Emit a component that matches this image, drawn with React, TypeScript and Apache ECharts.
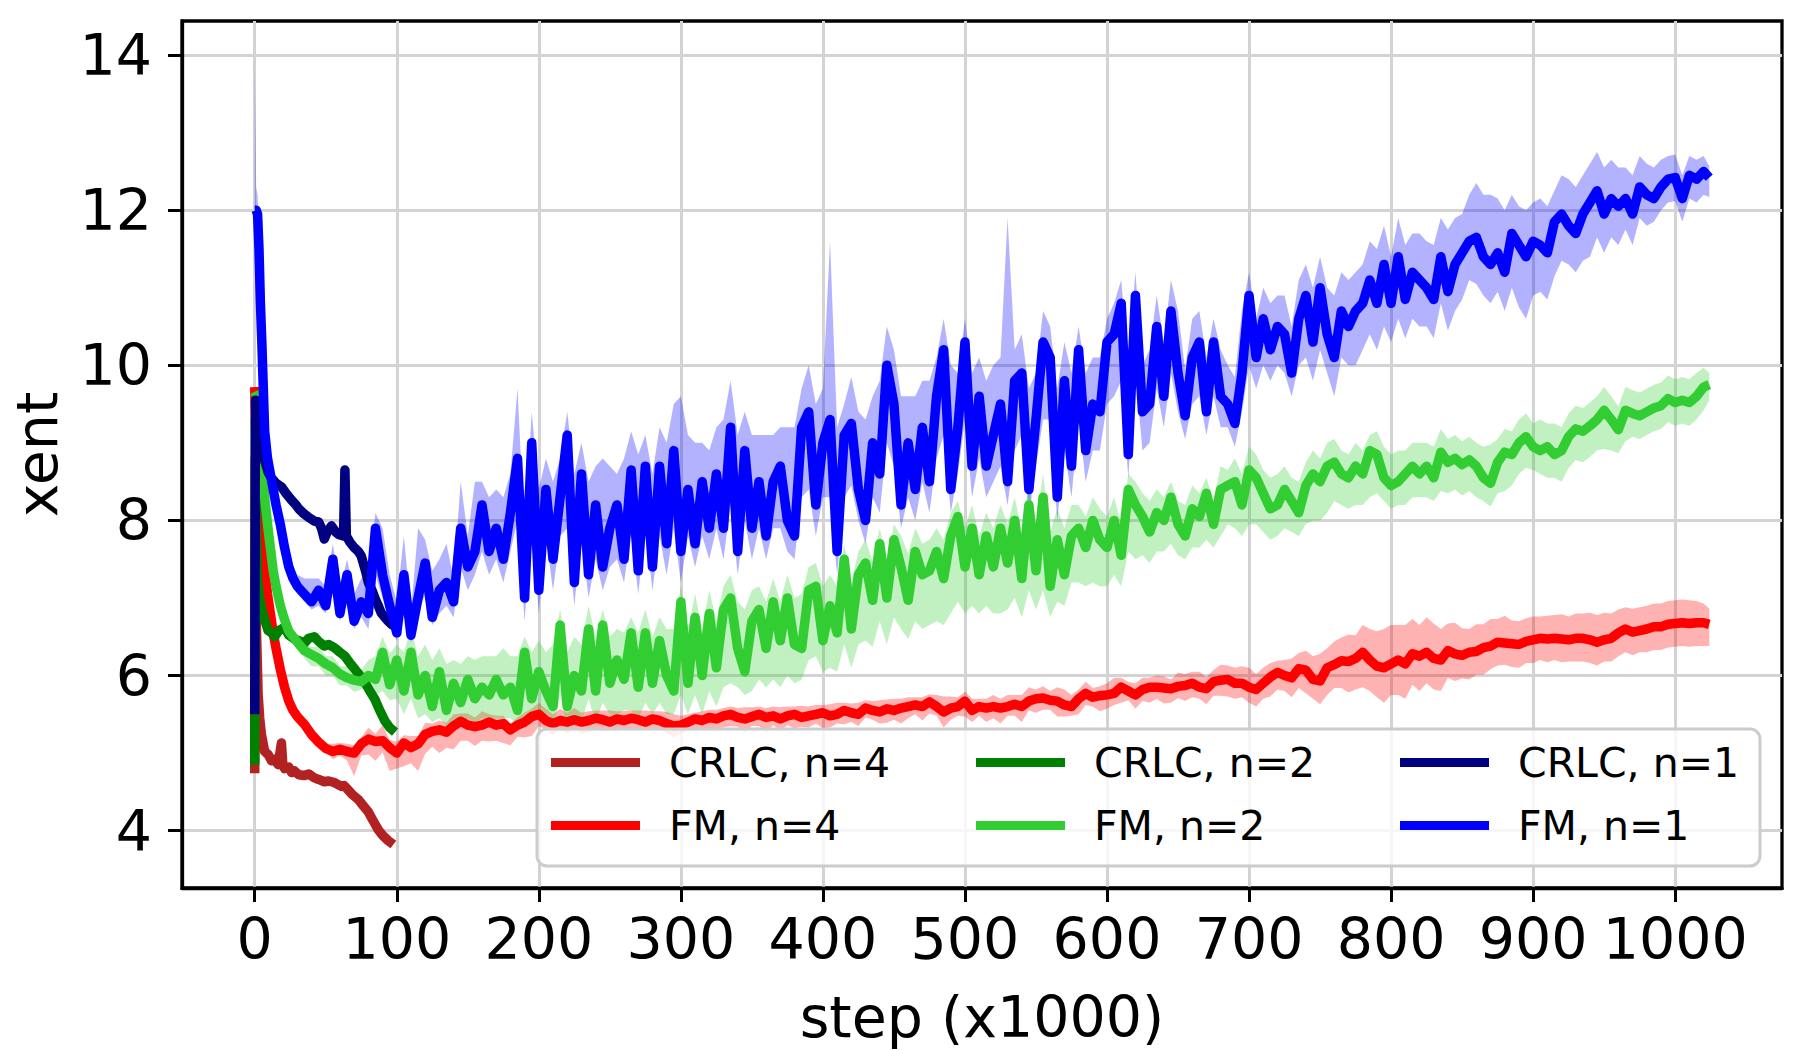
import React, { useEffect, useRef } from "react";
import * as echarts from "echarts";

const FONT = "'DejaVu Sans', 'Liberation Sans', sans-serif";

const xTickValues = [0, 100, 200, 300, 400, 500, 600, 700, 800, 900, 1000];
const yTickValues = [4, 6, 8, 10, 12, 14];

const fmEarlySteps = [0, 1, 2, 3, 4, 5, 7, 9, 11, 13, 15, 18, 21, 24, 27, 30];
const fmSteps = [...fmEarlySteps, ...Array.from({ length: 198 }, (_, i) => 35 + 5 * i), 1024];

const fm1Mean = [
  12.0, 12.0, 11.95, 11.5, 10.8, 10.3, 9.15, 8.8, 8.6, 8.4, 8.2, 7.95, 7.65, 7.4, 7.25, 7.15,
  7.05, 6.95, 7.1, 6.9, 7.5, 6.8, 7.3, 6.7, 6.95, 6.8, 7.9, 7.3, 6.9, 6.55, 7.3, 6.52, 7.0, 7.45, 6.75, 7.1,
  7.2, 6.95, 7.9, 7.4, 7.6, 8.2, 7.6, 7.9, 7.5, 8.1, 8.8, 7.0, 9.0, 7.1, 8.4, 7.5, 8.3, 9.1, 7.2, 8.6,
  7.3, 8.2, 7.4, 7.9, 8.2, 7.5, 8.65, 7.35, 8.7, 7.4, 8.7, 7.7, 8.9, 7.6, 8.4, 7.7, 8.5, 7.9, 8.6, 7.9,
  9.2, 7.6, 8.9, 7.9, 8.5, 7.8, 8.5, 8.7, 8.0, 7.8, 9.2, 9.4, 8.2, 9.0, 9.3, 7.6, 9.1, 9.25, 8.4, 8.0,
  9.0, 8.6, 10.0, 9.5, 8.2, 9.0, 8.4, 9.2, 8.5, 9.6, 10.2, 8.4, 9.2, 10.3, 8.7, 9.6, 8.7, 9.1, 9.5, 8.5,
  9.8, 9.9, 8.4, 9.3, 10.3, 10.1, 8.3, 9.8, 8.7, 10.2, 8.9, 9.5, 9.4, 10.3, 10.4, 10.8, 8.85, 10.9, 9.4, 9.5,
  10.5, 9.6, 10.7, 9.9, 9.35, 10.1, 10.3, 9.4, 10.3, 9.6, 9.5, 9.25, 9.9, 10.9, 10.1, 10.6, 10.2, 10.5, 10.4, 9.9,
  10.6, 10.9, 10.3, 11.0, 10.4, 10.1, 10.7, 10.5, 10.7, 10.8, 11.1, 10.8, 11.3, 10.8, 11.4, 10.85, 11.2, 11.1, 11.0, 10.85,
  11.4, 10.95, 11.3, 11.45, 11.6, 11.65, 11.4, 11.3, 11.45, 11.2, 11.7, 11.55, 11.4, 11.6, 11.55, 11.45, 11.85, 11.95, 11.8, 11.7,
  11.95, 12.1, 12.25, 11.95, 12.15, 12.05, 12.15, 11.95, 12.3, 12.2, 12.15, 12.3, 12.4, 12.42, 12.15, 12.45, 12.4, 12.5,
  12.42,
];
const fm1Up = [
  1.96, 0.3, 0.25, 0.25, 0.25, 0.2, 0.2, 0.15, 0.15, 0.15, 0.15, 0.15, 0.15, 0.15, 0.15, 0.15,
  0.2, 0.3, 0.15, 0.25, 0.2, 0.3, 0.2, 0.35, 0.3, 0.5, 0.2, 0.6, 0.4, 0.4, 0.5, 0.3, 0.9, 0.3, 0.6, 0.4,
  0.5, 0.3, 0.6, 0.4, 0.9, 0.3, 0.7, 0.5, 0.8, 0.5, 0.9, 0.8, 0.4, 1.3, 0.4, 1.0, 0.5, 0.3, 1.4, 0.4,
  1.2, 0.5, 1.4, 0.8, 0.4, 1.3, 0.5, 1.5, 0.4, 1.2, 0.5, 1.3, 0.6, 2.0, 0.7, 1.3, 0.5, 1.0, 0.6, 1.4,
  0.6, 1.5, 0.5, 1.2, 0.6, 1.3, 0.6, 0.5, 1.2, 1.4, 0.5, 0.6, 1.3, 0.7, 2.3, 1.6, 0.4, 0.6, 1.0, 1.3,
  0.6, 1.2, 0.5, 0.7, 1.4, 0.6, 1.2, 0.6, 1.3, 0.5, 0.4, 1.6, 0.7, 0.3, 1.2, 0.5, 1.1, 0.9, 0.6, 3.4,
  0.4, 0.5, 1.3, 0.6, 0.4, 0.4, 1.4, 0.5, 1.2, 0.3, 1.0, 0.6, 0.7, 0.3, 0.4, 0.3, 1.2, 0.3, 0.6, 0.7,
  0.4, 0.7, 0.4, 0.8, 0.6, 0.5, 0.4, 0.7, 0.3, 0.6, 0.5, 0.6, 0.8, 0.3, 0.5, 0.4, 0.6, 0.4, 0.5, 0.6,
  0.5, 0.4, 0.7, 0.4, 0.6, 0.8, 0.5, 0.6, 0.5, 0.5, 0.5, 0.7, 0.5, 0.6, 0.5, 0.7, 0.5, 0.6, 0.6, 0.7,
  0.5, 0.8, 0.6, 0.5, 0.6, 0.7, 0.8, 0.9, 0.7, 0.8, 0.5, 0.5, 0.6, 0.5, 0.6, 0.6, 0.4, 0.5, 0.6, 0.6,
  0.5, 0.5, 0.5, 0.6, 0.5, 0.5, 0.4, 0.5, 0.4, 0.4, 0.4, 0.35, 0.3, 0.3, 0.3, 0.25, 0.25, 0.2,
  0.15,
];
const fm1Down = [
  0, 0.1, 0.1, 0.1, 0.1, 0.1, 0.1, 0.1, 0.1, 0.1, 0.1, 0.1, 0.1, 0.1, 0.1, 0.1,
  0.1, 0.1, 0.2, 0.1, 0.3, 0.1, 0.3, 0.1, 0.2, 0.2, 0.6, 0.3, 0.2, 0.1, 0.4, 0.1, 0.2, 0.4, 0.1, 0.3,
  0.3, 0.2, 0.5, 0.3, 0.3, 0.6, 0.3, 0.4, 0.3, 0.5, 0.8, 0.3, 1.0, 0.3, 0.6, 0.4, 0.5, 1.2, 0.3, 0.8,
  0.3, 0.7, 0.3, 0.5, 0.7, 0.3, 0.8, 0.3, 0.8, 0.3, 0.9, 0.4, 1.0, 0.4, 0.6, 0.3, 0.7, 0.4, 0.7, 0.4,
  1.0, 0.3, 0.9, 0.4, 0.6, 0.3, 0.6, 0.8, 0.4, 0.3, 0.9, 1.0, 0.4, 0.7, 1.0, 0.3, 0.8, 0.8, 0.4, 0.3,
  0.7, 0.5, 1.0, 0.8, 0.3, 0.7, 0.4, 0.7, 0.4, 0.8, 1.1, 0.3, 0.6, 1.0, 0.4, 0.8, 0.4, 0.6, 0.8, 0.3,
  0.9, 0.8, 0.3, 0.6, 1.0, 0.8, 0.3, 0.9, 0.4, 0.9, 0.4, 0.6, 0.5, 0.8, 0.8, 1.0, 0.3, 1.0, 0.5, 0.5,
  0.8, 0.4, 0.8, 0.5, 0.3, 0.6, 0.7, 0.3, 0.7, 0.4, 0.3, 0.3, 0.5, 0.9, 0.4, 0.6, 0.4, 0.5, 0.5, 0.3,
  0.6, 0.8, 0.5, 0.8, 0.5, 0.5, 0.6, 0.5, 0.7, 0.6, 0.7, 0.6, 0.8, 0.5, 0.8, 0.5, 0.6, 0.6, 0.5, 0.5,
  0.6, 0.5, 0.6, 0.6, 0.5, 0.6, 0.5, 0.5, 0.5, 0.5, 0.7, 0.8, 0.8, 0.7, 0.6, 0.6, 0.7, 0.6, 0.5, 0.5,
  0.6, 0.7, 0.6, 0.5, 0.5, 0.5, 0.4, 0.4, 0.4, 0.4, 0.3, 0.3, 0.3, 0.3, 0.3, 0.3, 0.3, 0.3,
  0.25,
];

const fm2Mean = [
  9.66, 9.62, 9.57, 9.4, 9.2, 8.95, 8.3, 7.95, 7.65, 7.35, 7.15, 6.9, 6.72, 6.57, 6.5, 6.43,
  6.32, 6.27, 6.22, 6.15, 6.1, 6.02, 5.97, 5.94, 5.92, 6.0, 5.95, 6.3, 5.88, 6.2, 5.8, 6.3, 5.75, 6.0, 5.6, 6.05,
  5.55, 5.9, 5.65, 5.95, 5.7, 5.85, 5.75, 5.95, 5.75, 5.85, 5.55, 6.3, 5.7, 6.05, 5.8, 5.6, 6.65, 5.6, 6.0, 5.8,
  6.6, 5.8, 6.65, 5.9, 6.2, 5.95, 6.55, 5.85, 6.55, 5.9, 6.45, 6.0, 5.8, 6.95, 5.9, 6.75, 6.0, 6.8, 6.1, 6.85,
  7.0, 6.35, 6.05, 6.7, 6.85, 6.35, 6.95, 6.45, 7.0, 6.4, 6.35, 7.1, 7.15, 6.45, 6.9, 6.55, 7.5, 6.6, 7.3, 7.45,
  6.97, 7.7, 7.0, 7.75, 7.4, 6.97, 7.6, 7.3, 7.35, 7.6, 7.25, 7.8, 8.05, 7.4, 7.9, 7.3, 7.8, 7.4, 7.9, 7.45,
  8.0, 7.25, 8.2, 7.35, 8.3, 7.15, 7.75, 7.3, 7.8, 7.9, 7.65, 8.0, 7.75, 7.65, 8.0, 7.55, 8.4, 8.2, 8.05, 7.85,
  8.1, 8.0, 8.3, 7.95, 7.8, 8.15, 8.05, 8.35, 7.95, 8.4, 8.45, 8.5, 8.2, 8.65, 8.55, 8.35, 8.15, 8.2, 8.4, 8.25,
  8.1, 8.45, 8.6, 8.5, 8.7, 8.75, 8.6, 8.55, 8.7, 8.6, 8.9, 8.85, 8.55, 8.45, 8.5, 8.6, 8.7, 8.6, 8.7, 8.55,
  8.88, 8.75, 8.8, 8.72, 8.78, 8.7, 8.55, 8.48, 8.75, 8.88, 8.85, 9.0, 9.08, 8.95, 8.9, 8.95, 8.85, 8.9, 9.08, 9.18,
  9.15, 9.22, 9.3, 9.42, 9.3, 9.17, 9.42, 9.38, 9.35, 9.4, 9.45, 9.48, 9.57, 9.52, 9.55, 9.52, 9.6, 9.72,
  9.75,
];
const fm2Up = [
  0.05, 0.05, 0.05, 0.05, 0.05, 0.05, 0.05, 0.05, 0.05, 0.05, 0.05, 0.05, 0.05, 0.05, 0.05, 0.05,
  0.1, 0.1, 0.15, 0.1, 0.15, 0.1, 0.15, 0.1, 0.15, 0.2, 0.3, 0.2, 0.4, 0.2, 0.5, 0.3, 0.5, 0.4, 0.6, 0.3,
  0.6, 0.3, 0.5, 0.3, 0.5, 0.4, 0.5, 0.3, 0.6, 0.4, 0.7, 0.2, 0.6, 0.4, 0.5, 0.8, 0.2, 0.7, 0.5, 0.6,
  0.3, 0.7, 0.2, 0.6, 0.4, 0.6, 0.2, 0.7, 0.3, 0.6, 0.3, 0.6, 0.8, 0.2, 0.7, 0.3, 0.6, 0.3, 0.6, 0.3,
  0.3, 0.6, 0.8, 0.4, 0.3, 0.6, 0.3, 0.5, 0.3, 0.6, 0.7, 0.3, 0.3, 0.7, 0.4, 0.6, 0.2, 0.6, 0.3, 0.3,
  0.5, 0.2, 0.5, 0.2, 0.4, 0.6, 0.3, 0.4, 0.4, 0.3, 0.5, 0.3, 0.2, 0.5, 0.3, 0.5, 0.3, 0.5, 0.3, 0.5,
  0.3, 0.6, 0.3, 0.6, 0.3, 0.7, 0.4, 0.6, 0.4, 0.3, 0.4, 0.3, 0.4, 0.4, 0.3, 0.4, 0.2, 0.3, 0.3, 0.4,
  0.3, 0.3, 0.2, 0.3, 0.4, 0.3, 0.3, 0.2, 0.3, 0.3, 0.2, 0.3, 0.4, 0.3, 0.3, 0.3, 0.4, 0.4, 0.3, 0.3,
  0.4, 0.3, 0.3, 0.3, 0.3, 0.3, 0.3, 0.3, 0.3, 0.3, 0.2, 0.3, 0.4, 0.4, 0.4, 0.3, 0.3, 0.4, 0.3, 0.4,
  0.3, 0.3, 0.3, 0.3, 0.3, 0.3, 0.4, 0.5, 0.3, 0.3, 0.3, 0.3, 0.3, 0.3, 0.4, 0.3, 0.4, 0.3, 0.3, 0.3,
  0.3, 0.3, 0.3, 0.3, 0.3, 0.3, 0.3, 0.3, 0.3, 0.3, 0.3, 0.3, 0.3, 0.3, 0.3, 0.3, 0.3, 0.25,
  0.15,
];
const fm2Down = [
  0.05, 0.05, 0.05, 0.05, 0.05, 0.05, 0.05, 0.05, 0.05, 0.05, 0.05, 0.05, 0.05, 0.05, 0.05, 0.05,
  0.1, 0.15, 0.1, 0.15, 0.1, 0.15, 0.1, 0.15, 0.1, 0.15, 0.2, 0.5, 0.2, 0.5, 0.3, 0.6, 0.3, 0.5, 0.2, 0.6,
  0.2, 0.5, 0.3, 0.5, 0.3, 0.4, 0.3, 0.5, 0.3, 0.4, 0.2, 0.8, 0.3, 0.6, 0.4, 0.3, 0.9, 0.3, 0.6, 0.4,
  0.9, 0.4, 1.0, 0.4, 0.7, 0.4, 1.0, 0.4, 0.9, 0.4, 0.8, 0.5, 0.3, 1.2, 0.4, 1.0, 0.5, 1.0, 0.5, 1.0,
  1.1, 0.5, 0.3, 0.9, 0.9, 0.5, 1.0, 0.6, 1.0, 0.5, 0.4, 0.9, 0.9, 0.4, 0.8, 0.5, 1.1, 0.5, 0.9, 1.0,
  0.6, 1.0, 0.6, 1.0, 0.8, 0.5, 0.9, 0.7, 0.7, 0.9, 0.6, 1.0, 1.1, 0.6, 1.0, 0.5, 0.9, 0.6, 1.1, 0.6,
  1.0, 0.5, 1.1, 0.5, 1.2, 0.4, 0.8, 0.4, 0.6, 0.7, 0.5, 0.8, 0.6, 0.5, 0.7, 0.4, 0.8, 0.7, 0.5, 0.4,
  0.5, 0.4, 0.6, 0.4, 0.3, 0.5, 0.4, 0.6, 0.3, 0.6, 0.5, 0.6, 0.4, 0.7, 0.6, 0.5, 0.4, 0.4, 0.5, 0.4,
  0.3, 0.5, 0.6, 0.5, 0.6, 0.5, 0.4, 0.4, 0.5, 0.4, 0.6, 0.5, 0.3, 0.3, 0.3, 0.4, 0.4, 0.3, 0.4, 0.3,
  0.5, 0.4, 0.4, 0.4, 0.4, 0.4, 0.3, 0.3, 0.4, 0.5, 0.4, 0.4, 0.4, 0.3, 0.3, 0.4, 0.3, 0.4, 0.4, 0.4,
  0.4, 0.4, 0.4, 0.5, 0.4, 0.3, 0.4, 0.3, 0.3, 0.3, 0.3, 0.3, 0.3, 0.3, 0.3, 0.3, 0.3, 0.3,
  0.2,
];

const fm4Mean = [
  9.72, 8.9, 8.35, 8.05, 7.95, 7.8, 7.37, 7.05, 6.8, 6.55, 6.35, 6.08, 5.85, 5.67, 5.55, 5.47,
  5.37, 5.24, 5.14, 5.06, 5.02, 5.05, 5.02, 5.0, 5.12, 5.18, 5.15, 5.16, 5.07, 5.0, 5.13, 5.07, 5.12, 5.24, 5.28, 5.3,
  5.27, 5.35, 5.41, 5.36, 5.34, 5.36, 5.4, 5.36, 5.38, 5.3, 5.36, 5.4, 5.47, 5.5, 5.42, 5.38, 5.42, 5.4, 5.43, 5.4,
  5.42, 5.45, 5.43, 5.4, 5.44, 5.42, 5.45, 5.43, 5.4, 5.44, 5.42, 5.38, 5.35, 5.36, 5.4, 5.44, 5.42, 5.46, 5.44, 5.48,
  5.5, 5.46, 5.44, 5.47, 5.5, 5.46, 5.48, 5.44, 5.48, 5.5, 5.46, 5.48, 5.5, 5.52, 5.48, 5.5, 5.55, 5.52, 5.5, 5.58,
  5.55, 5.53, 5.57, 5.55, 5.58, 5.6, 5.62, 5.6, 5.66, 5.6, 5.53, 5.58, 5.6, 5.67, 5.55, 5.6, 5.58, 5.6, 5.58, 5.6,
  5.63, 5.6, 5.67, 5.7, 5.71, 5.68, 5.67, 5.62, 5.6, 5.7, 5.77, 5.72, 5.74, 5.75, 5.77, 5.85, 5.8, 5.75, 5.82, 5.85,
  5.85, 5.84, 5.83, 5.86, 5.87, 5.9, 5.85, 5.83, 5.92, 5.94, 5.95, 5.9, 5.9, 5.85, 5.82, 5.9, 5.98, 6.04, 6.0, 5.97,
  6.09, 6.07, 5.95, 5.93, 6.1, 6.14, 6.19, 6.18, 6.22, 6.3, 6.2, 6.12, 6.1, 6.15, 6.2, 6.15, 6.28, 6.25, 6.3, 6.22,
  6.2, 6.32, 6.28, 6.26, 6.3, 6.31, 6.36, 6.38, 6.43, 6.42, 6.41, 6.4, 6.44, 6.46, 6.48, 6.47, 6.48, 6.47, 6.46, 6.48,
  6.48, 6.46, 6.43, 6.46, 6.48, 6.55, 6.6, 6.56, 6.58, 6.6, 6.63, 6.63, 6.66, 6.67, 6.68, 6.67, 6.68, 6.68,
  6.66,
];
const fm4Up = [
  0.03, 0.03, 0.03, 0.03, 0.03, 0.03, 0.03, 0.03, 0.03, 0.03, 0.03, 0.03, 0.03, 0.03, 0.03, 0.03,
  0.05, 0.05, 0.05, 0.05, 0.1, 0.08, 0.1, 0.1, 0.08, 0.15, 0.1, 0.2, 0.1, 0.15, 0.1, 0.15, 0.1, 0.15, 0.1, 0.12,
  0.12, 0.15, 0.1, 0.15, 0.12, 0.18, 0.1, 0.12, 0.1, 0.08, 0.1, 0.12, 0.1, 0.15, 0.15, 0.12, 0.15, 0.12, 0.15, 0.12,
  0.12, 0.1, 0.12, 0.15, 0.1, 0.12, 0.1, 0.12, 0.15, 0.1, 0.12, 0.15, 0.15, 0.12, 0.1, 0.08, 0.12, 0.1, 0.12, 0.1,
  0.1, 0.12, 0.15, 0.12, 0.1, 0.12, 0.12, 0.15, 0.12, 0.1, 0.15, 0.12, 0.12, 0.1, 0.15, 0.15, 0.1, 0.12, 0.15, 0.1,
  0.12, 0.15, 0.12, 0.15, 0.12, 0.12, 0.1, 0.12, 0.1, 0.15, 0.2, 0.15, 0.12, 0.12, 0.15, 0.1, 0.12, 0.15, 0.12, 0.15,
  0.12, 0.15, 0.18, 0.12, 0.15, 0.12, 0.18, 0.2, 0.15, 0.12, 0.15, 0.12, 0.12, 0.15, 0.2, 0.12, 0.12, 0.15, 0.15, 0.12,
  0.15, 0.15, 0.12, 0.18, 0.15, 0.15, 0.2, 0.15, 0.15, 0.2, 0.18, 0.2, 0.22, 0.25, 0.2, 0.2, 0.18, 0.15, 0.2, 0.25,
  0.2, 0.25, 0.3, 0.35, 0.25, 0.3, 0.3, 0.35, 0.3, 0.35, 0.4, 0.45, 0.5, 0.5, 0.45, 0.5, 0.45, 0.4, 0.45, 0.45,
  0.4, 0.35, 0.4, 0.35, 0.3, 0.35, 0.3, 0.35, 0.3, 0.35, 0.3, 0.3, 0.3, 0.3, 0.28, 0.3, 0.3, 0.32, 0.3, 0.32,
  0.32, 0.35, 0.35, 0.35, 0.32, 0.3, 0.28, 0.3, 0.3, 0.3, 0.3, 0.3, 0.3, 0.3, 0.3, 0.3, 0.28, 0.25,
  0.2,
];
const fm4Down = [
  0.03, 0.03, 0.03, 0.03, 0.03, 0.03, 0.03, 0.03, 0.03, 0.03, 0.03, 0.03, 0.03, 0.03, 0.03, 0.03,
  0.05, 0.05, 0.08, 0.05, 0.1, 0.08, 0.12, 0.3, 0.15, 0.2, 0.25, 0.15, 0.3, 0.2, 0.3, 0.2, 0.35, 0.25, 0.2, 0.3,
  0.2, 0.3, 0.25, 0.2, 0.25, 0.2, 0.25, 0.2, 0.25, 0.2, 0.15, 0.2, 0.25, 0.15, 0.12, 0.15, 0.12, 0.15, 0.12, 0.15,
  0.15, 0.15, 0.15, 0.12, 0.15, 0.12, 0.15, 0.12, 0.1, 0.15, 0.12, 0.12, 0.15, 0.1, 0.12, 0.15, 0.12, 0.15, 0.12, 0.15,
  0.15, 0.12, 0.18, 0.12, 0.15, 0.2, 0.12, 0.15, 0.12, 0.18, 0.12, 0.15, 0.12, 0.2, 0.15, 0.12, 0.18, 0.12, 0.15, 0.12,
  0.12, 0.15, 0.18, 0.12, 0.2, 0.15, 0.12, 0.18, 0.15, 0.12, 0.2, 0.15, 0.12, 0.2, 0.15, 0.12, 0.18, 0.15, 0.2, 0.12,
  0.15, 0.2, 0.12, 0.18, 0.15, 0.12, 0.2, 0.15, 0.12, 0.2, 0.15, 0.12, 0.2, 0.18, 0.15, 0.2, 0.12, 0.18, 0.15, 0.2,
  0.15, 0.2, 0.18, 0.15, 0.2, 0.18, 0.15, 0.2, 0.18, 0.2, 0.22, 0.2, 0.18, 0.2, 0.22, 0.2, 0.25, 0.22, 0.2, 0.25,
  0.25, 0.3, 0.25, 0.3, 0.35, 0.3, 0.35, 0.4, 0.4, 0.45, 0.4, 0.4, 0.45, 0.4, 0.45, 0.45, 0.4, 0.45, 0.4, 0.4,
  0.4, 0.35, 0.35, 0.3, 0.35, 0.3, 0.35, 0.3, 0.3, 0.28, 0.3, 0.3, 0.28, 0.3, 0.28, 0.3, 0.28, 0.3, 0.28, 0.3,
  0.3, 0.3, 0.3, 0.28, 0.3, 0.3, 0.3, 0.3, 0.28, 0.3, 0.3, 0.3, 0.3, 0.3, 0.3, 0.3, 0.3, 0.3,
  0.28,
];

const crlc4Steps = [0, 0.4, 1.2, 2.4, 3.5, 4.7, 7, 9.5, 11.8, 14, 16.5, 18.8, 19.8, 21, 24, 26, 28, 31, 35, 38, 42, 45, 49, 52, 56, 58, 61, 63, 66, 69, 73, 76, 80, 83, 87, 90, 94, 97.6];
const crlc4Values = [4.74, 8.8, 6.6, 5.75, 5.45, 5.24, 5.02, 4.98, 4.9, 4.92, 4.85, 5.13, 4.85, 4.8, 4.82, 4.75, 4.77, 4.72, 4.71, 4.73, 4.68, 4.66, 4.63, 4.64, 4.62, 4.6, 4.57, 4.58, 4.52, 4.46, 4.4, 4.33, 4.24, 4.14, 4.01, 3.94, 3.87, 3.82];

const crlc2Steps = [0, 0.5, 1.2, 2, 3, 5, 7, 9.4, 12, 14, 17, 21, 24, 28, 31, 35, 38, 42, 45, 49, 52, 56, 60, 63.5, 67, 70.6, 74, 77.6, 81, 84.7, 88, 91.8, 95, 98.8];
const crlc2Values = [4.85, 9.3, 7.8, 7.25, 7.05, 6.85, 6.72, 6.58, 6.55, 6.5, 6.58, 6.62, 6.52, 6.47, 6.45, 6.42, 6.48, 6.5, 6.44, 6.38, 6.4, 6.36, 6.3, 6.25, 6.16, 6.08, 6.0, 5.91, 5.8, 5.69, 5.55, 5.41, 5.33, 5.27];

const crlc1Steps = [0, 0.5, 1.5, 2.4, 4, 5.5, 7, 9.5, 12, 15, 19, 22, 26, 29, 31, 35, 38, 42, 45, 47, 49, 51, 54, 57, 59, 62.5, 63.5, 64.5, 67, 70, 73, 75, 78, 80, 83, 85, 87, 89, 92, 94, 97.6];
const crlc1Values = [5.5, 9.55, 9.3, 9.1, 8.95, 8.9, 8.77, 8.62, 8.54, 8.48, 8.43, 8.35, 8.26, 8.2, 8.15, 8.08, 8.04, 7.99, 7.98, 7.9, 7.76, 7.85, 7.93, 7.85, 7.82, 7.8, 8.65, 7.8, 7.72, 7.65, 7.6, 7.54, 7.35, 7.2, 7.08, 6.98, 6.9, 6.81, 6.74, 6.7, 6.64];

const seriesNames = ["CRLC, n=4", "FM, n=4", "CRLC, n=2", "FM, n=2", "CRLC, n=1", "FM, n=1"];
const seriesColors = ["#b22222", "#ff0000", "#008000", "#32cd32", "#000080", "#0000ff"];

const LINE_WIDTH = 9.5;

const pairs = (xs: number[], ys: number[]) => xs.map((x, i) => [x, ys[i]]);

function bandSeries(id: string, xs: number[], mean: number[], up: number[], down: number[], color: string) {
  return {
    type: "custom",
    id,
    name: id,
    silent: true,
    clip: true,
    z: 1,
    data: [[xs[0], mean[0]]],
    renderItem: (_params: any, api: any) => {
      const top = xs.map((x, i) => api.coord([x, mean[i] + up[i]]));
      const bottom = xs.map((x, i) => api.coord([x, mean[i] - down[i]])).reverse();
      return {
        type: "polygon",
        shape: { points: top.concat(bottom) },
        style: { fill: color, opacity: 0.3 },
        silent: true,
      };
    },
  };
}

function lineSeries(name: string, xs: number[], ys: number[], color: string) {
  return {
    type: "line",
    name,
    data: pairs(xs, ys),
    symbol: "none",
    showSymbol: false,
    silent: true,
    clip: true,
    z: 2,
    lineStyle: { color: color, width: LINE_WIDTH, join: "round", cap: "butt", opacity: 1 },
    itemStyle: { color: color },
  };
}

export default function App() {
  const ref = useRef<HTMLDivElement>(null);
  useEffect(() => {
    if (!ref.current) return;
    const chart = echarts.init(ref.current, null, { renderer: "svg" });
    const legendBase = {
      orient: "vertical",
      top: 742,
      itemWidth: 89,
      itemHeight: 9,
      itemGap: 22,
      icon: "rect",
      selectedMode: false,
      padding: 0,
      textStyle: { fontSize: 41, color: "#000", fontFamily: FONT, lineHeight: 41, padding: [0, 0, 0, 24] },
    };
    const plainLabel = (v: number) => String(v);
    const option: any = {
      animation: false,
      backgroundColor: "#ffffff",
      textStyle: { fontFamily: FONT },
      grid: {
        left: 180,
        right: 18,
        top: 21,
        bottom: 162,
        show: true,
        borderColor: "#000000",
        borderWidth: 3.3,
        backgroundColor: "transparent",
      },
      xAxis: {
        type: "value",
        min: -51.2,
        max: 1075.2,
        name: "step (x1000)",
        nameLocation: "middle",
        nameGap: 100,
        nameTextStyle: { fontSize: 57, color: "#000", fontFamily: FONT },
        axisLine: { show: true, onZero: false, lineStyle: { color: "#000", width: 3.3 } },
        axisTick: { show: true, customValues: xTickValues, length: 14, lineStyle: { color: "#000", width: 3 } },
        axisLabel: { customValues: xTickValues, formatter: plainLabel, fontSize: 57, color: "#000", margin: 22, fontFamily: FONT },
        splitLine: { show: true, lineStyle: { color: "#d3d3d3", width: 3 } },
      },
      yAxis: {
        type: "value",
        min: 3.26,
        max: 14.44,
        name: "xent",
        nameLocation: "middle",
        nameGap: 117,
        nameRotate: 90,
        nameTextStyle: { fontSize: 57, color: "#000", fontFamily: FONT },
        axisLine: { show: true, onZero: false, lineStyle: { color: "#000", width: 3.3 } },
        axisTick: { show: true, customValues: yTickValues, length: 14, lineStyle: { color: "#000", width: 3 } },
        axisLabel: { customValues: yTickValues, formatter: plainLabel, fontSize: 57, color: "#000", margin: 30, fontFamily: FONT },
        splitLine: { show: true, lineStyle: { color: "#d3d3d3", width: 3 } },
      },
      legend: [
        { ...legendBase, left: 551, data: [seriesNames[0], seriesNames[1]] },
        { ...legendBase, left: 976, data: [seriesNames[2], seriesNames[3]] },
        { ...legendBase, left: 1400, data: [seriesNames[4], seriesNames[5]] },
      ],
      graphic: {
        elements: [
          {
            type: "rect",
            z: 3,
            silent: true,
            shape: { x: 537, y: 729, width: 1223, height: 137, r: 10 },
            style: { fill: "rgba(255,255,255,0.8)", stroke: "#cccccc", lineWidth: 3 },
          },
        ],
      },
      series: [
        bandSeries("band-fm4", fmSteps, fm4Mean, fm4Up, fm4Down, seriesColors[1]),
        bandSeries("band-fm2", fmSteps, fm2Mean, fm2Up, fm2Down, seriesColors[3]),
        bandSeries("band-fm1", fmSteps, fm1Mean, fm1Up, fm1Down, seriesColors[5]),
        lineSeries(seriesNames[0], crlc4Steps, crlc4Values, seriesColors[0]),
        lineSeries(seriesNames[1], fmSteps, fm4Mean, seriesColors[1]),
        lineSeries(seriesNames[2], crlc2Steps, crlc2Values, seriesColors[2]),
        lineSeries(seriesNames[3], fmSteps, fm2Mean, seriesColors[3]),
        lineSeries(seriesNames[4], crlc1Steps, crlc1Values, seriesColors[4]),
        lineSeries(seriesNames[5], fmSteps, fm1Mean, seriesColors[5]),
      ],
    };
    chart.setOption(option);
    return () => chart.dispose();
  }, []);
  return (
    <div
      ref={ref}
      style={{ position: "fixed", left: 0, top: 0, width: 1800, height: 1050, background: "#ffffff" }}
    />
  );
}
